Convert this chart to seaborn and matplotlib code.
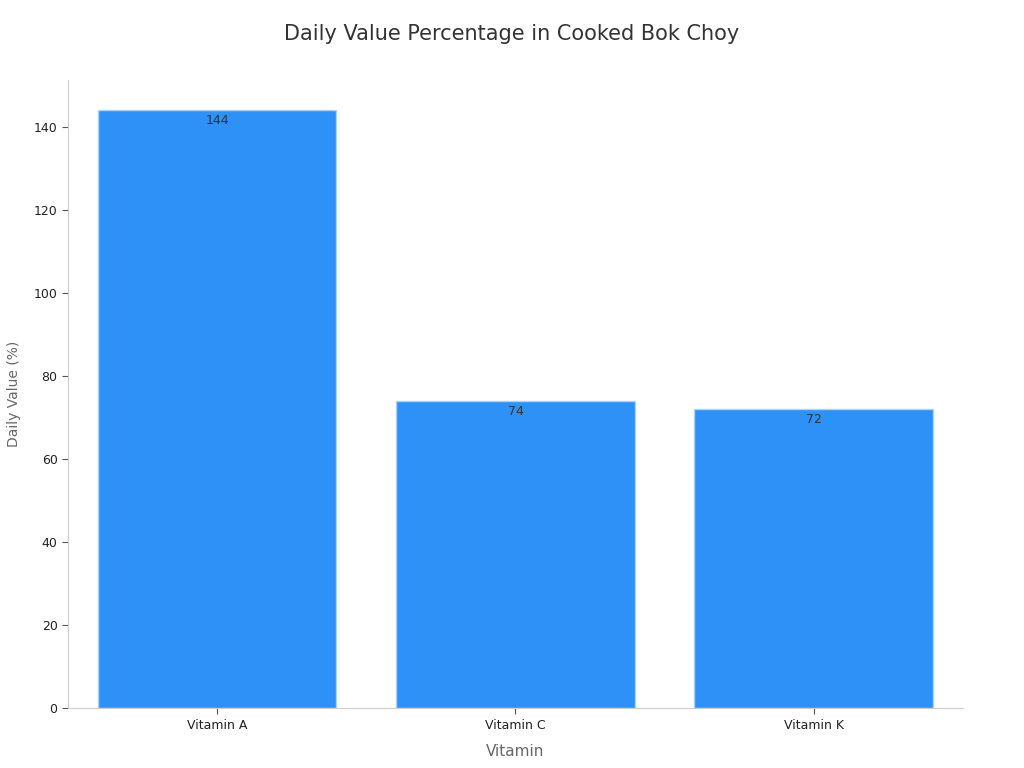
import matplotlib
matplotlib.use("Agg")
import matplotlib.pyplot as plt
import seaborn as sns
import pandas as pd

vitamins = ["Vitamin A", "Vitamin C", "Vitamin K"]
daily_values = [144, 74, 72]

sns.set_theme(style="white")
plt.rcParams['font.family'] = ['DejaVu Sans']

df = pd.DataFrame({"Vitamin": vitamins, "Daily Value (%)": daily_values})

fig = plt.figure(figsize=(10.24, 7.68), dpi=100)
ax = fig.add_axes([0.0664, 0.078, 0.874, 0.8178])

sns.barplot(data=df, x="Vitamin", y="Daily Value (%)", color="#2E91F8",
            saturation=1, width=0.8, edgecolor="#A9D3FB", linewidth=1, ax=ax)

for i, v in enumerate(daily_values):
    ax.annotate(str(v), (i, v), xytext=(0, -3), textcoords="offset points",
                ha="center", va="top", fontsize=9, color="#333333")

ax.set_xlim(-0.5, 2.5)
ax.set_ylim(0, 151.2)
ax.set_yticks(range(0, 141, 20))

for s in ["top", "right"]:
    ax.spines[s].set_visible(False)
for s in ["left", "bottom"]:
    ax.spines[s].set_color("#CCCCCC")
    ax.spines[s].set_linewidth(0.8)

ax.tick_params(axis="both", which="both", length=4, width=0.8, color="#555555",
               labelsize=9, labelcolor="#222222", bottom=True, left=True)

ax.set_xlabel("Vitamin", fontsize=11, color="#666666", labelpad=9)
ax.set_ylabel("Daily Value (%)", fontsize=10, color="#666666", labelpad=9)
fig.suptitle("Daily Value Percentage in Cooked Bok Choy", fontsize=15,
             color="#333333", y=0.969)

fig.savefig("out.png", dpi=100)
